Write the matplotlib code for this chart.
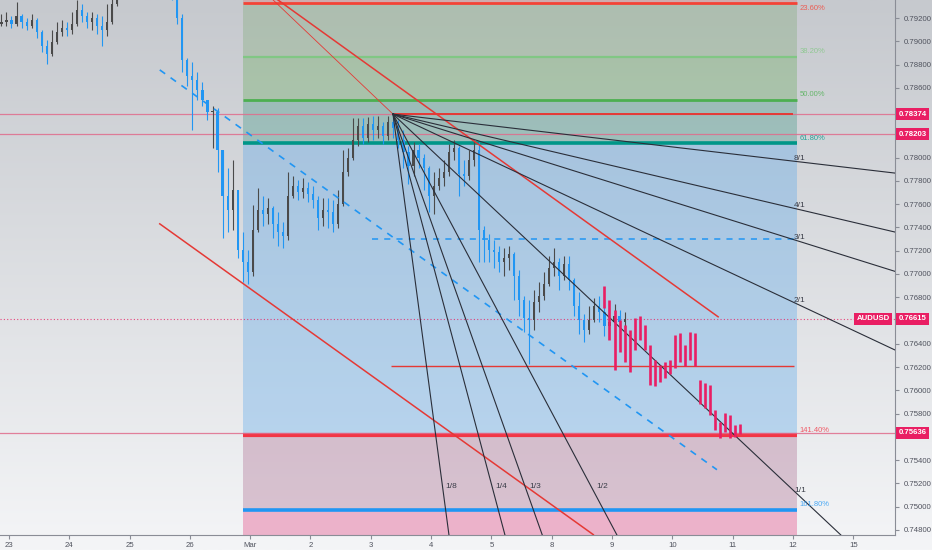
import numpy as np
import matplotlib
matplotlib.use('Agg')
import matplotlib.pyplot as plt
import matplotlib.transforms as mtransforms
from matplotlib.colors import LinearSegmentedColormap

plt.rcParams['font.family'] = ['Liberation Sans', 'DejaVu Sans']

# AUDUSD 2h bars, x = trading-day index (0 = 23 Feb)
bar_start = -0.125
bars_per_day = 12
first_open = 0.79150

closes = [0.79166, 0.79183, 0.79149, 0.79217, 0.79166, 0.79131, 0.79183, 0.79080, 0.78960, 0.78891,
          0.78994, 0.79080, 0.79114, 0.79097, 0.79149, 0.79269, 0.79217, 0.79166, 0.79200, 0.79131,
          0.79097, 0.79166, 0.79321, 0.79527, 0.79656, 0.79785, 0.79871, 0.79939, 0.79974, 0.79888,
          0.79853, 0.79785, 0.79699, 0.79613, 0.79441, 0.79200, 0.78839, 0.78702, 0.78668, 0.78582,
          0.78496, 0.78393, 0.78393, 0.78066, 0.77670, 0.77550, 0.77722, 0.77207, 0.77104, 0.77018,
          0.77379, 0.77550, 0.77516, 0.77567, 0.77430, 0.77361, 0.77327, 0.77670, 0.77756, 0.77705,
          0.77739, 0.77688, 0.77636, 0.77481, 0.77550, 0.77533, 0.77430, 0.77602, 0.77877, 0.77997,
          0.78152, 0.78272, 0.78169, 0.78289, 0.78238, 0.78272, 0.78186, 0.78307, 0.78255, 0.78152,
          0.78049, 0.77928, 0.78066, 0.77997, 0.77911, 0.77670, 0.77756, 0.77825, 0.77877, 0.78049,
          0.78083, 0.77860, 0.77842, 0.77980, 0.78066, 0.77379, 0.77293, 0.77207, 0.77190, 0.77104,
          0.77138, 0.77172, 0.76983, 0.76777, 0.76622, 0.76605, 0.76760, 0.76811, 0.76914, 0.77052,
          0.77104, 0.76983, 0.77086, 0.76949, 0.76725, 0.76605, 0.76519, 0.76605, 0.76725, 0.76674,
          0.76553, 0.76588, 0.76639, 0.76588, 0.76615]
highs = [0.79235, 0.79252, 0.79217, 0.79338, 0.79235, 0.79200, 0.79235, 0.79200, 0.79097, 0.79011,
         0.79097, 0.79166, 0.79183, 0.79166, 0.79252, 0.79355, 0.79321, 0.79252, 0.79252, 0.79235,
         0.79217, 0.79321, 0.79424, 0.79613, 0.79742, 0.79871, 0.79974, 0.80042, 0.80077, 0.80025,
         0.79957, 0.79905, 0.79819, 0.79733, 0.79640, 0.79460, 0.79235, 0.78857, 0.78822, 0.78736,
         0.78650, 0.78496, 0.78444, 0.78427, 0.78066, 0.77911, 0.77980, 0.77722, 0.77361, 0.77207,
         0.77593, 0.77739, 0.77670, 0.77653, 0.77584, 0.77533, 0.77447, 0.77877, 0.77842, 0.77808,
         0.77825, 0.77791, 0.77756, 0.77670, 0.77653, 0.77653, 0.77636, 0.77722, 0.78066, 0.78083,
         0.78341, 0.78340, 0.78341, 0.78350, 0.78358, 0.78358, 0.78307, 0.78358, 0.78374, 0.78324,
         0.78238, 0.78100, 0.78135, 0.78117, 0.78031, 0.77928, 0.77877, 0.77911, 0.77980, 0.78117,
         0.78152, 0.78100, 0.77980, 0.78066, 0.78152, 0.78135, 0.77413, 0.77344, 0.77293, 0.77241,
         0.77224, 0.77241, 0.77190, 0.77035, 0.76811, 0.76777, 0.76863, 0.76932, 0.77018, 0.77155,
         0.77224, 0.77138, 0.77155, 0.77155, 0.76967, 0.76846, 0.76656, 0.76725, 0.76794, 0.76811,
         0.76777, 0.76708, 0.76742, 0.76691, 0.76674]
lows = [0.79131, 0.79131, 0.79114, 0.79131, 0.79114, 0.79097, 0.79114, 0.79028, 0.78908, 0.78805,
        0.78874, 0.78977, 0.79045, 0.79045, 0.79063, 0.79131, 0.79166, 0.79114, 0.79097, 0.79063,
        0.78960, 0.79045, 0.79149, 0.79303, 0.79510, 0.79630, 0.79750, 0.79836, 0.79871, 0.79785,
        0.79750, 0.79682, 0.79596, 0.79493, 0.79355, 0.79149, 0.78736, 0.78616, 0.78238, 0.78496,
        0.78444, 0.78324, 0.78083, 0.77877, 0.77310, 0.77361, 0.77379, 0.77138, 0.76932, 0.76914,
        0.76983, 0.77361, 0.77413, 0.77430, 0.77310, 0.77241, 0.77224, 0.77293, 0.77653, 0.77636,
        0.77653, 0.77619, 0.77567, 0.77379, 0.77413, 0.77396, 0.77361, 0.77396, 0.77584, 0.77842,
        0.77980, 0.78100, 0.78117, 0.78135, 0.78152, 0.78169, 0.78117, 0.78152, 0.78169, 0.78083,
        0.77911, 0.77774, 0.77842, 0.77911, 0.77722, 0.77533, 0.77516, 0.77722, 0.77756, 0.77842,
        0.77980, 0.77670, 0.77756, 0.77808, 0.77928, 0.77104, 0.77104, 0.77104, 0.77052, 0.77018,
        0.76983, 0.77035, 0.76777, 0.76639, 0.76502, 0.76227, 0.76519, 0.76674, 0.76777, 0.76897,
        0.76983, 0.76863, 0.76949, 0.76863, 0.76639, 0.76485, 0.76416, 0.76485, 0.76590, 0.76588,
        0.76467, 0.76485, 0.76519, 0.76519, 0.76553]

# projected "bars pattern" (pink), starts at bar 120
pattern_start = 120
pattern_high = [0.76897, 0.76777, 0.76691, 0.76605, 0.76562, 0.76519, 0.76622, 0.76639, 0.76562, 0.76390,
                0.76261, 0.76218, 0.76244, 0.76261, 0.76476, 0.76493, 0.76390, 0.76502, 0.76493, 0.76089,
                0.76064, 0.76047, 0.75832, 0.75729, 0.75806, 0.75789, 0.75703, 0.75711]
pattern_low = [0.76708, 0.76433, 0.76175, 0.76330, 0.76244, 0.76158, 0.76347, 0.76433, 0.76347, 0.76047,
               0.76038, 0.76072, 0.76107, 0.76141, 0.76192, 0.76244, 0.76210, 0.76261, 0.76210, 0.75883,
               0.75849, 0.75789, 0.75660, 0.75591, 0.75643, 0.75591, 0.75600, 0.75625]

day_ticks = list(range(15))
day_labels = ['23', '24', '25', '26', 'Mar', '2', '3', '4', '5', '8', '9', '10', '11', '12', '15']
price_ticks = [0.748, 0.750, 0.752, 0.754, 0.756, 0.758, 0.760, 0.762, 0.764, 0.766, 0.768,
               0.770, 0.772, 0.774, 0.776, 0.778, 0.780, 0.782, 0.784, 0.786, 0.788, 0.790, 0.792]
hidden_ticks = [0.756, 0.766, 0.782, 0.784]  # covered by price tags

# fib retracement
fib_start, fib_end = 3.88, 13.07
fib_p0, fib_p1 = 0.80073, 0.76921
fib_levels = [0.0, 0.236, 0.382, 0.5, 0.618, 1.414, 1.618, 2.618]
fib_line_colors = [None, '#f44336', '#81c784', '#4caf50', '#009688', '#f23645', '#2196f3', None]
fib_line_widths = [0, 2.0, 1.6, 2.0, 2.6, 3.0, 2.6, 0]
fib_fill_colors = ['#e57373', '#80aa78', '#68aa5c', '#3f9784', '#58a7eb', '#ab698d', '#e33b7c']

marked_prices = [0.78374, 0.78203, 0.75636]
last_price = 0.76615
swing_high = 0.78374
support_level = 0.76210
mid_level = 0.77301

# trend channel (day index, price)
channel_low = [(2.50, 0.77431), (9.69, 0.74760)]
channel_mid = [(2.50, 0.78754), (11.74, 0.75318)]
channel_up = [(4.46, 0.79355), (11.76, 0.76632)]
thin_line = [(4.38, 0.79355), (6.368, 0.78374)]

# gann fan
fan_origin = (6.368, 0.78374)
fan_unit = 0.00487  # price per day of the 1/1 line
fan_ratios = [8, 4, 3, 2, 1, 1 / 2, 1 / 3, 1 / 4, 1 / 8]
fan_labels = ['8/1', '4/1', '3/1', '2/1', '1/1', '1/2', '1/3', '1/4', '1/8']
fan_box_right = 13.07
fan_box_bottom = 0.75112

blue = '#2196f3'
gray = '#4a4a4a'
pink = '#e91e63'
text_gray = '#50535e'

fig = plt.figure(figsize=(9.32, 5.5), dpi=100)
bg = fig.add_axes([0, 0, 1, 1], zorder=-10)
grad = np.linspace(0, 1, 256).reshape(-1, 1)
bg.imshow(grad, aspect='auto', extent=[0, 1, 0, 1], origin='upper',
          cmap=LinearSegmentedColormap.from_list('bg', ['#c6c9ce', '#f4f5f7']))
bg.axis('off')

ax = fig.add_axes([0, 15 / 550, 895 / 932, 535 / 550])
ax.set_facecolor('none')
ax.set_xlim(-0.149, 14.693)
ax.set_ylim(0.747569, 0.793547)

# fib zones and levels
fib_prices = [fib_p0 - lv * (fib_p0 - fib_p1) for lv in fib_levels]
for j in range(len(fib_prices) - 1):
    ax.fill_between([fib_start, fib_end], fib_prices[j], fib_prices[j + 1],
                    color=fib_fill_colors[j], alpha=0.35, lw=0, zorder=1)
for p, c, w in zip(fib_prices, fib_line_colors, fib_line_widths):
    if c is None:
        continue
    ax.hlines(p, fib_start, fib_end, color=c, lw=w, zorder=2)
fib_names = ['23.60%', '38.20%', '50.00%', '61.80%', '141.40%', '161.80%']
for name, p, c in zip(fib_names, fib_prices[1:-1], fib_line_colors[1:-1]):
    top = name == '23.60%'
    ax.annotate(name, (fib_end, p), xytext=(2, -1.5 if top else 1), textcoords='offset points',
                ha='left', va='top' if top else 'bottom', fontsize=5.5, color=c, alpha=0.8,
                annotation_clip=False, zorder=7)

# horizontal levels
for p in marked_prices:
    ax.axhline(p, color='#e06c8c', lw=0.9, alpha=0.85, zorder=2)
ax.axhline(last_price, color=pink, lw=0.8, ls=(0, (1, 2)), alpha=0.8, zorder=2)
ax.hlines(swing_high, fan_origin[0], 13.0, color='#e53935', lw=1.4, zorder=4)
ax.hlines(support_level, 6.335, 13.02, color='#e53935', lw=1.0, zorder=4)
ax.hlines(mid_level, 6.02, fib_end, color=blue, lw=1.1, ls=(0, (4, 4)), zorder=4)

# candles
n = len(closes)
opens = [first_open] + closes[:-1]
xs = bar_start + np.arange(n) / bars_per_day
cols = [blue if c < o else gray for o, c in zip(opens, closes)]
ax.vlines(xs, lows, highs, colors=cols, lw=0.8, zorder=3)
body_lo = [min(o, c) for o, c in zip(opens, closes)]
body_h = [max(abs(c - o), 0.00004) for o, c in zip(opens, closes)]
ax.bar(xs, body_h, bottom=body_lo, width=0.035, color=cols, lw=0, zorder=3)

# projected bars
px = bar_start + (pattern_start + np.arange(len(pattern_high))) / bars_per_day
ax.vlines(px, pattern_low, pattern_high, colors=pink, lw=1.9, zorder=6)

# channel lines
for seg, c, w, ls in [(channel_low, '#e53935', 1.1, '-'), (channel_up, '#e53935', 1.1, '-'),
                      (thin_line, '#e53935', 0.6, '-'), (channel_mid, blue, 1.2, (0, (4, 4)))]:
    ax.plot([seg[0][0], seg[1][0]], [seg[0][1], seg[1][1]], color=c, lw=w, ls=ls, zorder=4)

# gann fan
ox, oy = fan_origin
for r, lab in zip(fan_ratios, fan_labels):
    slope = fan_unit / r
    ax.plot([ox, 20], [oy, oy - slope * (20 - ox)], color='#2a2e39', lw=0.8, zorder=5)
    if r >= 1:
        ax.annotate(lab, (fan_box_right, oy - slope * (fan_box_right - ox)), xytext=(2, 2.5),
                    textcoords='offset points', ha='center', va='center', fontsize=6,
                    color='#3a3d48', zorder=7)
    else:
        xb = ox + (oy - fan_box_bottom) / slope
        ax.annotate(lab, (xb, fan_box_bottom), xytext=(1, 3), textcoords='offset points',
                    ha='left', va='bottom', fontsize=6, color='#3a3d48', zorder=7)

# axes styling
for s in ['top', 'left']:
    ax.spines[s].set_visible(False)
ax.spines['right'].set_color('#8a8d96')
ax.spines['bottom'].set_color('#8a8d96')
ax.yaxis.tick_right()
ax.set_yticks(price_ticks)
ax.set_yticklabels(['' if p in hidden_ticks else '%.5f' % p for p in price_ticks])
ax.set_xticks(day_ticks)
ax.set_xticklabels(day_labels)
ax.tick_params(axis='both', labelsize=5.6, colors='#8a8d96', labelcolor=text_gray, length=3, width=0.8)
ax.tick_params(axis='y', pad=3)
ax.tick_params(axis='x', pad=2)

# price tags
trans = mtransforms.blended_transform_factory(ax.transAxes, ax.transData)
tag_box = dict(boxstyle='square,pad=0.3', fc=pink, ec='none')
for p in marked_prices + [last_price]:
    ax.text(1.004, p, '%.5f' % p, transform=trans, ha='left', va='center', fontsize=5.6,
            fontweight='bold', color='white', clip_on=False, zorder=10, bbox=tag_box)
ax.text(0.994, last_price, 'AUDUSD', transform=trans, ha='right', va='center', fontsize=5.6,
        fontweight='bold', color='white', clip_on=False, zorder=10, bbox=tag_box)

fig.savefig('out.png', dpi=100)
